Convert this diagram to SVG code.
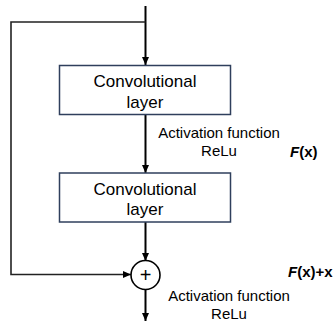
<svg xmlns="http://www.w3.org/2000/svg" width="335" height="324" viewBox="0 0 335 324">
<style>
.box{fill:#ffffff;stroke:#2f3f5c;stroke-width:1.5}
.ln{fill:none;stroke:#000;stroke-width:2}
.sk{fill:none;stroke:#222;stroke-width:1.6}
.t{font-family:"Liberation Sans",Arial,sans-serif;fill:#000}
.bx{font-size:17px;text-anchor:middle}
.lb{font-size:15px;text-anchor:middle}
.f{font-size:15px;font-weight:bold}
</style>
<defs>
<marker id="ah" markerUnits="userSpaceOnUse" markerWidth="8" markerHeight="8" viewBox="0 0 8 8" refX="8" refY="4" orient="auto">
<path d="M0,0.5 L8,4 L0,7.5 Z" fill="#000"/>
</marker>
</defs>
<g id="connectors">
<line class="ln" x1="145.5" y1="6" x2="145.5" y2="65" marker-end="url(#ah)"/>
<polyline class="sk" points="145.5,22 11,22 11,274.5 131,274.5" marker-end="url(#ah)"/>
<line class="ln" x1="145.5" y1="114.5" x2="145.5" y2="173" marker-end="url(#ah)"/>
<line class="ln" x1="145.5" y1="222" x2="145.5" y2="261" marker-end="url(#ah)"/>
<line class="ln" x1="145.5" y1="290" x2="145.5" y2="321" marker-end="url(#ah)"/>
</g>
<g id="conv1">
<rect class="box" x="59.5" y="65.5" width="171" height="49"/>
<text class="t bx" x="145" y="87">Convolutional</text>
<text class="t bx" x="145" y="108">layer</text>
</g>
<g id="conv2">
<rect class="box" x="59.5" y="173" width="171" height="49"/>
<text class="t bx" x="145" y="194.5">Convolutional</text>
<text class="t bx" x="145" y="215">layer</text>
</g>
<g id="add">
<circle cx="145.5" cy="275" r="14.5" fill="#fff" stroke="#000" stroke-width="1.6"/>
<text class="t" x="145.5" y="282" font-size="20" text-anchor="middle">+</text>
</g>
<g id="labels">
<text class="t lb" x="219" y="138">Activation function</text>
<text class="t lb" x="219" y="156">ReLu</text>
<text class="t f" x="290" y="157"><tspan font-style="italic">F</tspan>(x)</text>
<text class="t f" x="288" y="277"><tspan font-style="italic">F</tspan>(x)+x</text>
<text class="t lb" x="229" y="301">Activation function</text>
<text class="t lb" x="229" y="319">ReLu</text>
</g>
</svg>
